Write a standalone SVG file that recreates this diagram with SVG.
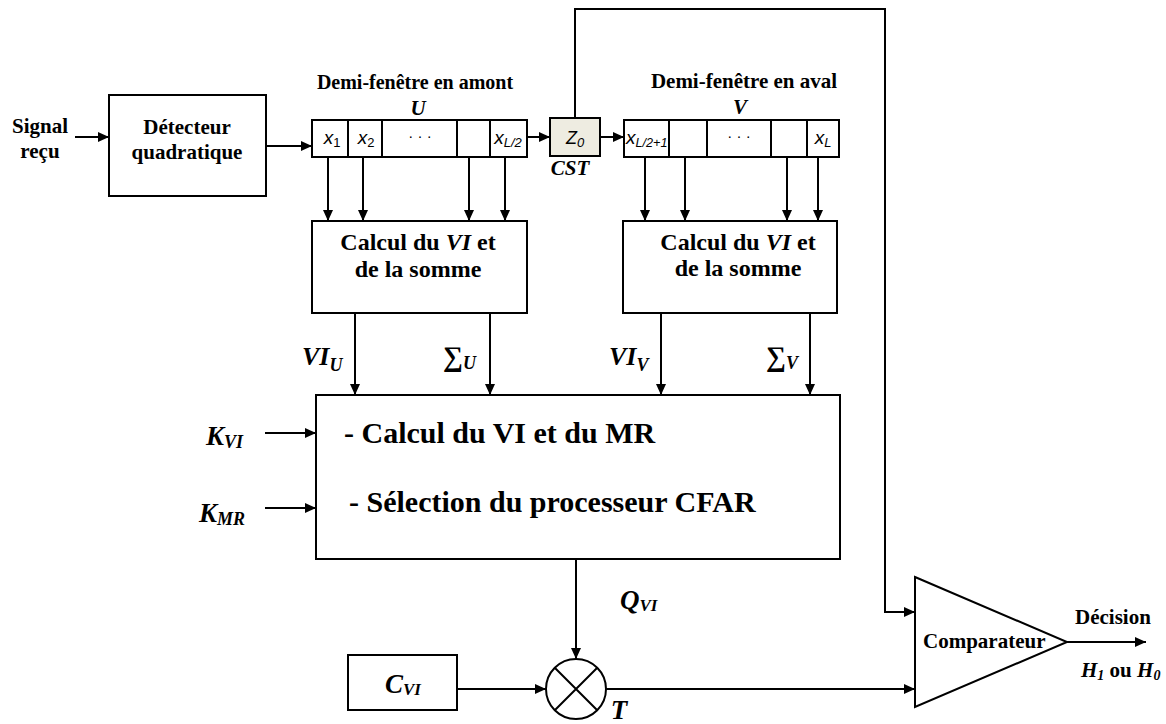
<svg xmlns="http://www.w3.org/2000/svg" width="1166" height="724" viewBox="0 0 1166 724">
<style>
.b{fill:#fff;stroke:#000;stroke-width:2}
.ln{fill:none;stroke:#000;stroke-width:2}
.t{font-family:"Liberation Serif","Times New Roman",serif;font-weight:bold;fill:#000}
.bi{font-family:"Liberation Serif","Times New Roman",serif;font-weight:bold;font-style:italic;fill:#000}
.s{font-family:"Liberation Sans",Arial,sans-serif;fill:#000}
</style>
<defs>
<marker id="ah" markerUnits="userSpaceOnUse" markerWidth="12" markerHeight="10" refX="11" refY="5" orient="auto">
<path d="M0,0 L11,5 L0,10 z" fill="#000"/>
</marker>
</defs>
<rect width="1166" height="724" fill="#fff"/>

<g id="connectors" class="ln" marker-end="url(#ah)">
<line x1="75" y1="137" x2="109" y2="137"/>
<line x1="266" y1="146" x2="312" y2="146"/>
<line x1="527" y1="137" x2="550" y2="137"/>
<line x1="600" y1="137" x2="624" y2="137"/>
<line x1="328" y1="157" x2="328" y2="221"/>
<line x1="363" y1="157" x2="363" y2="221"/>
<line x1="469" y1="157" x2="469" y2="221"/>
<line x1="505" y1="157" x2="505" y2="221"/>
<line x1="645" y1="157" x2="645" y2="221"/>
<line x1="685" y1="157" x2="685" y2="221"/>
<line x1="787" y1="157" x2="787" y2="221"/>
<line x1="818" y1="157" x2="818" y2="221"/>
<line x1="355" y1="313" x2="355" y2="395"/>
<line x1="490" y1="313" x2="490" y2="395"/>
<line x1="661" y1="313" x2="661" y2="395"/>
<line x1="810" y1="313" x2="810" y2="395"/>
<line x1="265" y1="433" x2="316" y2="433"/>
<line x1="265" y1="508" x2="316" y2="508"/>
<line x1="576" y1="559" x2="576" y2="659"/>
<line x1="457" y1="689" x2="546" y2="689"/>
<line x1="606" y1="689" x2="915" y2="689"/>
<polyline points="575,118 575,9 885,9 885,612 915,612"/>
<line x1="1067" y1="642" x2="1146" y2="642"/>
</g>

<g id="signal">
<text class="t" font-size="21" x="40" y="133" text-anchor="middle">Signal</text>
<text class="t" font-size="21" x="40" y="158" text-anchor="middle">reçu</text>
</g>

<g id="detecteur">
<rect class="b" x="109" y="95" width="157" height="101"/>
<text class="t" font-size="21" x="187" y="134" text-anchor="middle">Détecteur</text>
<text class="t" font-size="21" x="187" y="159" text-anchor="middle">quadratique</text>
</g>

<g id="fenetre-amont">
<text class="t" font-size="20" x="415" y="89" text-anchor="middle">Demi-fenêtre en amont</text>
<text class="bi" font-size="21" x="418" y="115" text-anchor="middle">U</text>
<rect class="b" x="312" y="120" width="215" height="37"/>
<path class="ln" d="M348,120V157M382,120V157M457,120V157M490,120V157"/>
<text class="s" font-size="19" x="332" y="144" text-anchor="middle"><tspan font-style="italic">x</tspan><tspan font-size="13" dy="3">1</tspan></text>
<text class="s" font-size="19" x="366" y="144" text-anchor="middle"><tspan font-style="italic">x</tspan><tspan font-size="13" dy="3">2</tspan></text>
<text class="s" font-size="15" x="420" y="141" text-anchor="middle">· · ·</text>
<text class="s" font-size="19" x="508" y="144" text-anchor="middle"><tspan font-style="italic">x</tspan><tspan font-size="13" dy="3" font-style="italic">L/2</tspan></text>
</g>

<g id="cst">
<rect x="550" y="118" width="50" height="38" fill="#EEECE1" stroke="#000" stroke-width="2"/>
<text class="s" font-size="18" x="575" y="144" text-anchor="middle" font-style="italic">Z<tspan font-size="13" dy="3">0</tspan></text>
<text class="bi" font-size="21" x="570" y="175" text-anchor="middle">CST</text>
</g>

<g id="fenetre-aval">
<text class="t" font-size="21" x="744" y="88" text-anchor="middle">Demi-fenêtre en aval</text>
<text class="bi" font-size="21" x="740" y="114" text-anchor="middle">V</text>
<rect class="b" x="624" y="120" width="215" height="37"/>
<path class="ln" d="M669,120V157M707,120V157M771,120V157M807,120V157"/>
<text class="s" font-size="19" x="626" y="144"><tspan font-style="italic">x</tspan><tspan font-size="13" dy="3" font-style="italic" textLength="32" lengthAdjust="spacingAndGlyphs">L/2+1</tspan></text>
<text class="s" font-size="15" x="739" y="141" text-anchor="middle">· · ·</text>
<text class="s" font-size="19" x="823" y="144" text-anchor="middle"><tspan font-style="italic">x</tspan><tspan font-size="13" dy="3" font-style="italic">L</tspan></text>
</g>

<g id="calcul-u">
<rect class="b" x="312" y="221" width="215" height="92"/>
<text class="t" font-size="24" x="418" y="250" text-anchor="middle">Calcul du <tspan font-style="italic">VI</tspan> et</text>
<text class="t" font-size="24" x="418" y="277" text-anchor="middle">de la somme</text>
</g>

<g id="calcul-v">
<rect class="b" x="623" y="221" width="214" height="92"/>
<text class="t" font-size="24" x="738" y="250" text-anchor="middle">Calcul du <tspan font-style="italic">VI</tspan> et</text>
<text class="t" font-size="24" x="738" y="276" text-anchor="middle">de la somme</text>
</g>

<g id="labels-mid">
<text class="bi" font-size="26" x="302" y="365">VI<tspan font-size="18" dy="6">U</tspan></text>
<text class="t" font-size="28" x="443" y="366" font-weight="normal">∑<tspan class="bi" font-size="18" dy="3">U</tspan></text>
<text class="bi" font-size="26" x="609" y="365">VI<tspan font-size="18" dy="6">V</tspan></text>
<text class="t" font-size="28" x="766" y="366" font-weight="normal">∑<tspan class="bi" font-size="18" dy="3">V</tspan></text>
</g>

<g id="k-inputs">
<text class="bi" font-size="27" x="206" y="445">K<tspan font-size="18" dy="3">VI</tspan></text>
<text class="bi" font-size="27" x="199" y="522">K<tspan font-size="18" dy="3">MR</tspan></text>
</g>

<g id="selection">
<rect class="b" x="316" y="395" width="524" height="164"/>
<text class="t" font-size="30" x="344" y="443">- Calcul du VI et du MR</text>
<text class="t" font-size="30" x="349" y="512">- Sélection du processeur CFAR</text>
</g>

<g id="qvi">
<text class="bi" font-size="27" x="620" y="609">Q<tspan font-size="17" dy="2">VI</tspan></text>
</g>

<g id="cvi">
<rect class="b" x="348" y="655" width="109" height="55"/>
<text class="bi" font-size="27" x="403" y="693" text-anchor="middle">C<tspan font-size="17" dy="2">VI</tspan></text>
</g>

<g id="multiplieur">
<circle class="b" cx="576" cy="689" r="30"/>
<path class="ln" d="M555,668L597,710M597,668L555,710"/>
<text class="bi" font-size="27" x="619" y="719" text-anchor="middle">T</text>
</g>

<g id="comparateur">
<polygon class="b" points="915,577 1067,642 915,707"/>
<text class="t" font-size="21" x="923" y="648">Comparateur</text>
<text class="t" font-size="21" x="1075" y="624">Décision</text>
<text class="t" font-size="21" x="1081" y="677"><tspan font-style="italic">H</tspan><tspan font-style="italic" font-size="14" dy="3">1</tspan><tspan dy="-3"> ou </tspan><tspan font-style="italic">H</tspan><tspan font-style="italic" font-size="14" dy="3">0</tspan></text>
</g>
</svg>
